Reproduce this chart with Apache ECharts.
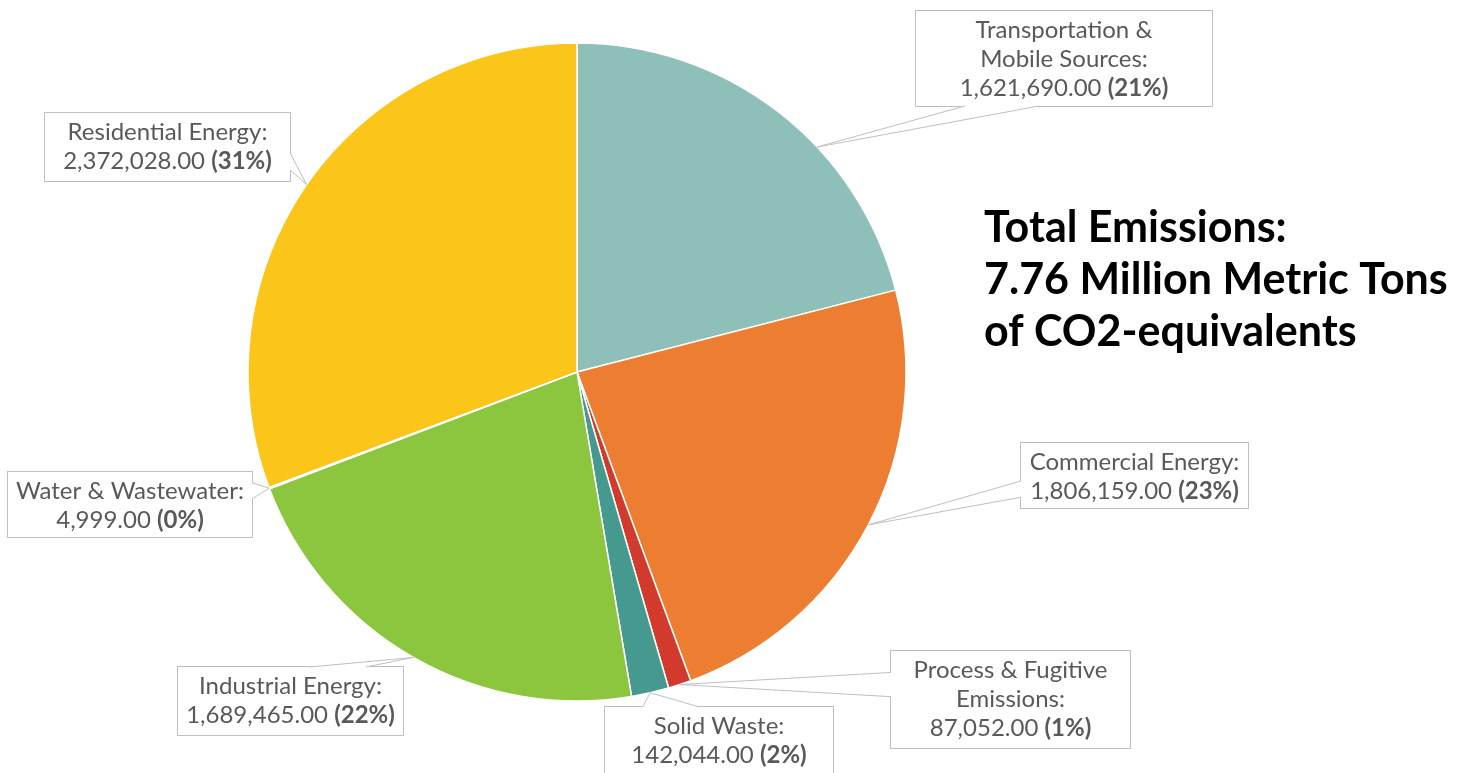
<!DOCTYPE html>
<html>
<head>
<meta charset="utf-8">
<title>Total Emissions</title>
<script src="https://cdn.jsdelivr.net/npm/echarts@6/dist/echarts.min.js"></script>
<style>
  html, body { margin: 0; padding: 0; background: #fff; }
  #chart { width: 1468px; height: 773px; }
</style>
</head>
<body>
<div id="chart"></div>
<script>
// Emissions by sector (metric tons CO2e), clockwise from 12 o'clock
const categories = [
  'Transportation &\nMobile Sources',
  'Commercial Energy',
  'Process & Fugitive\nEmissions',
  'Solid Waste',
  'Industrial Energy',
  'Water & Wastewater',
  'Residential Energy'
];
const emissions = [1621690, 1806159, 87052, 142044, 1689465, 4999, 2372028];
const sliceColors = ['#8FBFB9', '#ED7D31', '#D13A2C', '#46998F', '#8CC63F', '#A5A5A5', '#FBC51A'];
const titleLines = ['Total Emissions:', '7.76 Million Metric Tons', 'of CO2-equivalents'];

// Callout box placement: center x, center y, width, height,
// and where along the slice's arc the callout tail points (0..1)
const labelBoxes = [
  [1064, 58.5, 296, 95, 0.62],
  [1134.5, 475.5, 227, 65, 0.5],
  [1010.5, 699.5, 239, 97, 0.5],
  [719, 741, 228, 68, 0.5],
  [290.5, 701, 225, 68, 0.5],
  [130, 504.5, 244, 65, 0.5],
  [167.5, 147, 245, 68, 0.5]
];

const total = emissions.reduce((a, b) => a + b, 0);
const fmt = v => v.toLocaleString('en-US', { minimumFractionDigits: 2, maximumFractionDigits: 2 });
const FONT = 'Lato';
const TEXT = '#595959';
const EDGE = '#bfbfbf';
const PAD_TOP = 5;

const seriesData = categories.map((name, i) => ({
  name: name,
  value: emissions[i],
  itemStyle: { color: sliceColors[i] },
  label: { width: labelBoxes[i][2], height: labelBoxes[i][3] - PAD_TOP }
}));

const chart = echarts.init(document.getElementById('chart'), null, { renderer: 'canvas' });

chart.setOption({
  backgroundColor: '#ffffff',
  animation: false,
  title: {
    text: titleLines.join('\n'),
    left: 984,
    top: 202,
    padding: 0,
    textStyle: {
      fontFamily: FONT,
      fontWeight: 'bold',
      fontSize: 43,
      lineHeight: 52,
      color: '#000000'
    }
  },
  series: [{
    type: 'pie',
    center: [577, 372],
    radius: [0, 329],
    startAngle: 90,
    clockwise: true,
    avoidLabelOverlap: false,
    itemStyle: { borderColor: '#ffffff', borderWidth: 1.5 },
    label: {
      show: true,
      position: 'outside',
      backgroundColor: '#ffffff',
      borderColor: EDGE,
      borderWidth: 1,
      padding: [PAD_TOP, 0, 0, 0],
      align: 'center',
      verticalAlign: 'middle',
      formatter: p => {
        const lines = p.name.split('\n');
        lines[lines.length - 1] += ':';
        const pct = Math.round(p.value / total * 100);
        return lines.map(l => '{n|' + l + '}').join('\n') +
          '\n{n|' + fmt(p.value) + ' }{b|(' + pct + '%)}';
      },
      rich: {
        n: { fontFamily: FONT, fontSize: 24, lineHeight: 29, color: TEXT, align: 'center' },
        b: { fontFamily: FONT, fontSize: 24, lineHeight: 29, color: TEXT, fontWeight: 'bold', align: 'center' }
      }
    },
    labelLine: { show: false },
    labelLayout: params => {
      const b = labelBoxes[params.dataIndex];
      return { x: b[0], y: b[1], align: 'center', verticalAlign: 'middle' };
    },
    data: seriesData
  }]
});

// Wedge-shaped callout tails from each label box to its slice
function buildCallouts() {
  const data = chart.getModel().getSeriesByIndex(0).getData();
  const clamp = (v, lo, hi) => Math.max(lo, Math.min(hi, v));
  const elements = [];
  labelBoxes.forEach((b, i) => {
    const lay = data.getItemLayout(i);
    const ang = lay.startAngle + (lay.endAngle - lay.startAngle) * b[4];
    const tip = [lay.cx + lay.r * Math.cos(ang), lay.cy + lay.r * Math.sin(ang)];
    const [cx, cy, w, h] = b;
    const x0 = cx - w / 2, x1 = cx + w / 2, y0 = cy - h / 2, y1 = cy + h / 2;
    const dx = (tip[0] - cx) / (w / 2), dy = (tip[1] - cy) / (h / 2);
    let p1, p2, q1, q2;
    if (Math.abs(dx) > Math.abs(dy)) {
      // tail leaves through the left or right edge
      const ex = dx < 0 ? x0 : x1;
      const inward = dx < 0 ? 2 : -2;
      const f = clamp((tip[1] - y0) / h, 0.29, 0.71);
      const m = y0 + f * h, half = h * 0.125;
      p1 = [ex, m - half]; p2 = [ex, m + half];
      q1 = [ex + inward, m - half + 0.5]; q2 = [ex + inward, m + half - 0.5];
    } else {
      // tail leaves through the top or bottom edge
      const ey = dy < 0 ? y0 : y1;
      const inward = dy < 0 ? 2 : -2;
      const f = clamp((tip[0] - x0) / w, 0.29, 0.71);
      const m = x0 + f * w, half = w * 0.125;
      p1 = [m - half, ey]; p2 = [m + half, ey];
      q1 = [m - half + 0.5, ey + inward]; q2 = [m + half - 0.5, ey + inward];
    }
    elements.push({
      type: 'polygon', z: 100, silent: true,
      shape: { points: [q1, p1, tip, p2, q2] },
      style: { fill: '#ffffff', stroke: null }
    });
    elements.push({
      type: 'polyline', z: 101, silent: true,
      shape: { points: [p1, tip, p2] },
      style: { stroke: EDGE, lineWidth: 1, fill: null }
    });
  });
  chart.setOption({ graphic: { elements: elements } });
}
buildCallouts();
</script>
</body>
</html>
